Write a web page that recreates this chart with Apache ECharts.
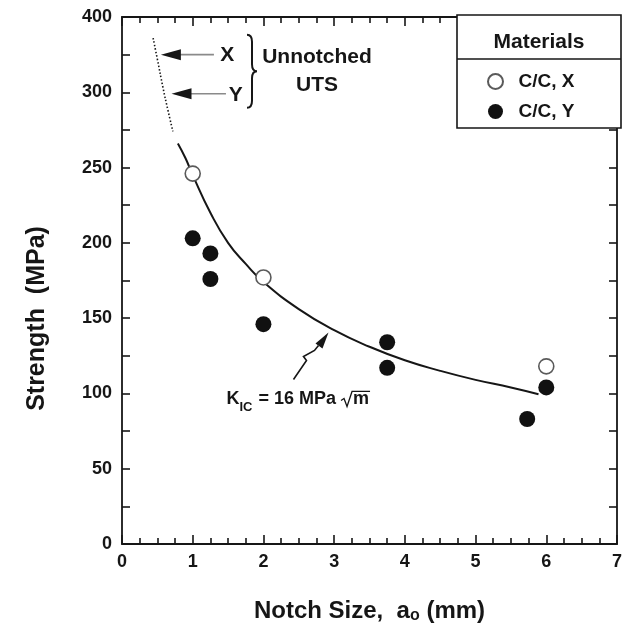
<!DOCTYPE html>
<html>
<head>
<meta charset="utf-8">
<script src="https://cdn.jsdelivr.net/npm/echarts@6/dist/echarts.min.js"></script>
<style>
  html, body { margin: 0; padding: 0; background: #ffffff; }
  #chart { width: 625px; height: 629px; }
</style>
</head>
<body>
<div id="chart"></div>
<script>
// Notched strength of C/C composites against notch size

const xTickLabels = ['0', '1', '2', '3', '4', '5', '6', '7'];
const yTickLabels = ['0', '50', '100', '150', '200', '250', '300', '400'];

// C/C, X (open circles)
const notchX = [1, 2, 6];
const strengthX = [246, 177, 118];

// C/C, Y (filled circles)
const notchY = [1, 1.25, 1.25, 2, 3.75, 3.75, 5.73, 6];
const strengthY = [203, 193, 176, 146, 134, 117, 83, 104];

// K_IC = 16 MPa sqrt(m) curve: solid part and dotted extension
const curveSolidA = [0.79, 0.9, 1.0, 1.25, 1.5, 1.75, 2.0, 2.5, 3.0, 3.5, 4.0, 4.5, 5.0, 5.5, 5.89];
const curveSolidS = [266, 256, 245, 220, 200, 186, 174, 156, 142, 131, 122, 115, 109, 104, 99.5];
const curveDotA = [0.44, 0.5, 0.58, 0.65, 0.72];
const curveDotS = [336, 322, 303, 288, 274];

// unnotched UTS levels
const utsLabels = ['X', 'Y'];
const utsValues = [325, 299];
const utsTipA = [0.55, 0.70];
const utsTailA = [1.30, 1.47];
const utsLabelA = [1.49, 1.61];

// pointer from the K_IC label to the curve
const kicTip = [2.92, 140.5];

const FONT = '"Liberation Sans", Arial, Helvetica, sans-serif';
const INK = '#161616';

function zip(a, b) { return a.map((v, i) => [v, b[i]]); }

const measureCtx = document.createElement('canvas').getContext('2d');
function textWidth(str, font) { measureCtx.font = font; return measureCtx.measureText(str).width; }

function renderNotes(params, api) {
  const children = [];
  for (let i = 0; i < utsValues.length; i++) {
    const tip = api.coord([utsTipA[i], utsValues[i]]);
    const tail = api.coord([utsTailA[i], utsValues[i]]);
    const lab = api.coord([utsLabelA[i], utsValues[i]]);
    children.push({ type: 'line', shape: { x1: tip[0] + 18, y1: tip[1], x2: tail[0], y2: tail[1] },
      style: { stroke: '#8a8a8a', lineWidth: 1.6 } });
    children.push({ type: 'polygon', shape: { points: [[tip[0], tip[1]], [tip[0] + 20, tip[1] - 5.5], [tip[0] + 20, tip[1] + 5.5]] },
      style: { fill: INK } });
    children.push({ type: 'text', x: lab[0], y: lab[1] + 1,
      style: { text: utsLabels[i], font: 'bold 21px ' + FONT, fill: INK, align: 'center', verticalAlign: 'middle' } });
  }
  // brace grouping the two UTS arrows
  const top = api.coord([0, utsValues[0]])[1] - 20;
  const bot = api.coord([0, utsValues[1]])[1] + 14;
  const mid = (top + bot) / 2;
  const bx = 252;
  children.push({ type: 'path', shape: {
      pathData: `M${bx - 5} ${top} Q${bx} ${top} ${bx} ${top + 7} L${bx} ${mid - 7} Q${bx} ${mid} ${bx + 5} ${mid} Q${bx} ${mid} ${bx} ${mid + 7} L${bx} ${bot - 7} Q${bx} ${bot} ${bx - 5} ${bot}` },
    style: { stroke: INK, lineWidth: 2, fill: null } });
  children.push({ type: 'text', x: 317, y: 57,
    style: { text: 'Unnotched', font: 'bold 21px ' + FONT, fill: INK, align: 'center', verticalAlign: 'middle' } });
  children.push({ type: 'text', x: 317, y: 85,
    style: { text: 'UTS', font: 'bold 21px ' + FONT, fill: INK, align: 'center', verticalAlign: 'middle' } });

  // K_IC label with its pointer
  const t = api.coord(kicTip);
  const pts = [[t[0] - 35, t[1] + 47], [t[0] - 22, t[1] + 28], [t[0] - 25, t[1] + 24], [t[0] - 14, t[1] + 18], [t[0] - 10, t[1] + 13]];
  children.push({ type: 'polyline', shape: { points: pts }, style: { stroke: INK, lineWidth: 1.6, fill: null } });
  children.push({ type: 'polygon', shape: { points: [[t[0], t[1]], [t[0] - 13, t[1] + 11], [t[0] - 6, t[1] + 16]] },
    style: { fill: INK } });

  const base = t[1] + 76;   // baseline of the label
  let x = t[0] - 102;
  const fBig = 'bold 18px ' + FONT, fSub = 'bold 13px ' + FONT;
  children.push({ type: 'text', x: x, y: base, style: { text: 'K', font: fBig, fill: INK, align: 'left', verticalAlign: 'bottom' } });
  x += textWidth('K', fBig);
  children.push({ type: 'text', x: x, y: base + 5, style: { text: 'IC', font: fSub, fill: INK, align: 'left', verticalAlign: 'bottom' } });
  x += textWidth('IC', fSub) + 1;
  const mid1 = ' = 16 MPa ';
  children.push({ type: 'text', x: x, y: base, style: { text: mid1, font: fBig, fill: INK, align: 'left', verticalAlign: 'bottom' } });
  x += textWidth(mid1, fBig);
  const rTop = base - 17;
  children.push({ type: 'polyline', shape: { points: [[x, base - 8], [x + 3, base - 10], [x + 6, base - 2], [x + 11, rTop], [x + 11 + textWidth('m', fBig) + 2, rTop]] },
    style: { stroke: INK, lineWidth: 1.3, fill: null } });
  children.push({ type: 'text', x: x + 12, y: base, style: { text: 'm', font: fBig, fill: INK, align: 'left', verticalAlign: 'bottom' } });

  return { type: 'group', children: children };
}

function tickAxis(pos, opts) {
  return Object.assign({
    type: 'value',
    position: pos,
    axisLine: { show: true, onZero: false, lineStyle: { color: INK, width: 1.8 } },
    splitLine: { show: false },
  }, opts);
}

const xCommon = {
  min: 0, max: 7, interval: 1,
  axisTick: { show: true, inside: true, length: 9, lineStyle: { color: INK, width: 1.6 } },
  minorTick: { show: true, splitNumber: 4, length: 6, lineStyle: { color: INK, width: 1.6 } },
};
const yCommon = {
  min: 0, max: 350, interval: 50,
  axisTick: { show: true, inside: true, length: 8, lineStyle: { color: INK, width: 1.6 } },
  minorTick: { show: true, splitNumber: 2, length: 8, lineStyle: { color: INK, width: 1.6 } },
};

const option = {
  backgroundColor: '#ffffff',
  animation: false,
  grid: { left: 122, right: 4, top: 17, bottom: 84, containLabel: false },
  xAxis: [
    tickAxis('bottom', Object.assign({}, xCommon, {
      axisLabel: { show: true, margin: 9, fontSize: 18, fontWeight: 'bold', fontFamily: FONT, color: INK,
        formatter: v => xTickLabels[Math.round(v)] },
      name: 'Notch Size,  a{sub|o} (mm)',
      nameLocation: 'middle', nameGap: 54,
      nameTextStyle: { fontSize: 24, fontWeight: 'bold', fontFamily: FONT, color: INK,
        rich: { sub: { fontSize: 16, fontWeight: 'bold', fontFamily: FONT, color: INK, verticalAlign: 'bottom', padding: [10, 0, 0, 0] } } }
    })),
    tickAxis('top', Object.assign({}, xCommon, { axisLabel: { show: false } }))
  ],
  yAxis: [
    tickAxis('left', Object.assign({}, yCommon, {
      axisLabel: { show: true, margin: 10, fontSize: 18, fontWeight: 'bold', fontFamily: FONT, color: INK,
        formatter: v => yTickLabels[Math.round(v / 50)] },
      name: 'Strength  (MPa)',
      nameLocation: 'middle', nameGap: 72,
      nameTextStyle: { fontSize: 25, fontWeight: 'bold', fontFamily: FONT, color: INK, padding: [0, 76, 0, 0] }
    })),
    tickAxis('right', Object.assign({}, yCommon, { axisLabel: { show: false } }))
  ],
  legend: {
    data: ['C/C, X', 'C/C, Y'],
    orient: 'vertical',
    left: 487, top: 72,
    padding: 0,
    itemWidth: 36, itemHeight: 15, itemGap: 11,
    textStyle: { fontSize: 19, fontWeight: 'bold', fontFamily: FONT, color: INK },
    selectedMode: false
  },
  graphic: [
    { type: 'rect', shape: { x: 457, y: 15, width: 164, height: 113 },
      style: { fill: '#ffffff', stroke: INK, lineWidth: 1.6 }, z: 1 },
    { type: 'line', shape: { x1: 457, y1: 59, x2: 621, y2: 59 }, style: { stroke: INK, lineWidth: 1.6 }, z: 2 },
    { type: 'text', x: 539, y: 42, style: { text: 'Materials', font: 'bold 21px ' + FONT, fill: INK, align: 'center', verticalAlign: 'middle' }, z: 2 }
  ],
  series: [
    { name: 'K_IC curve', type: 'line', data: zip(curveSolidA, curveSolidS), smooth: true,
      showSymbol: false, lineStyle: { color: INK, width: 2 }, silent: true, z: 3 },
    { name: 'K_IC curve extension', type: 'line', data: zip(curveDotA, curveDotS), smooth: true,
      showSymbol: false, lineStyle: { color: INK, width: 1.6, type: [1.5, 2] }, silent: true, z: 3 },
    { name: 'C/C, X', type: 'scatter', data: zip(notchX, strengthX), symbol: 'circle', symbolSize: 15,
      itemStyle: { color: '#ffffff', borderColor: '#5a5a5a', borderWidth: 1.6, opacity: 1 }, z: 5 },
    { name: 'C/C, Y', type: 'scatter', data: zip(notchY, strengthY), symbol: 'circle', symbolSize: 16,
      itemStyle: { color: '#111111', opacity: 1 }, z: 5 },
    { name: 'notes', type: 'custom', data: [[0, 0]], renderItem: renderNotes, clip: false, silent: true, z: 6 }
  ]
};

const chart = echarts.init(document.getElementById('chart'), null, { renderer: 'canvas' });
chart.setOption(option);
</script>
</body>
</html>
